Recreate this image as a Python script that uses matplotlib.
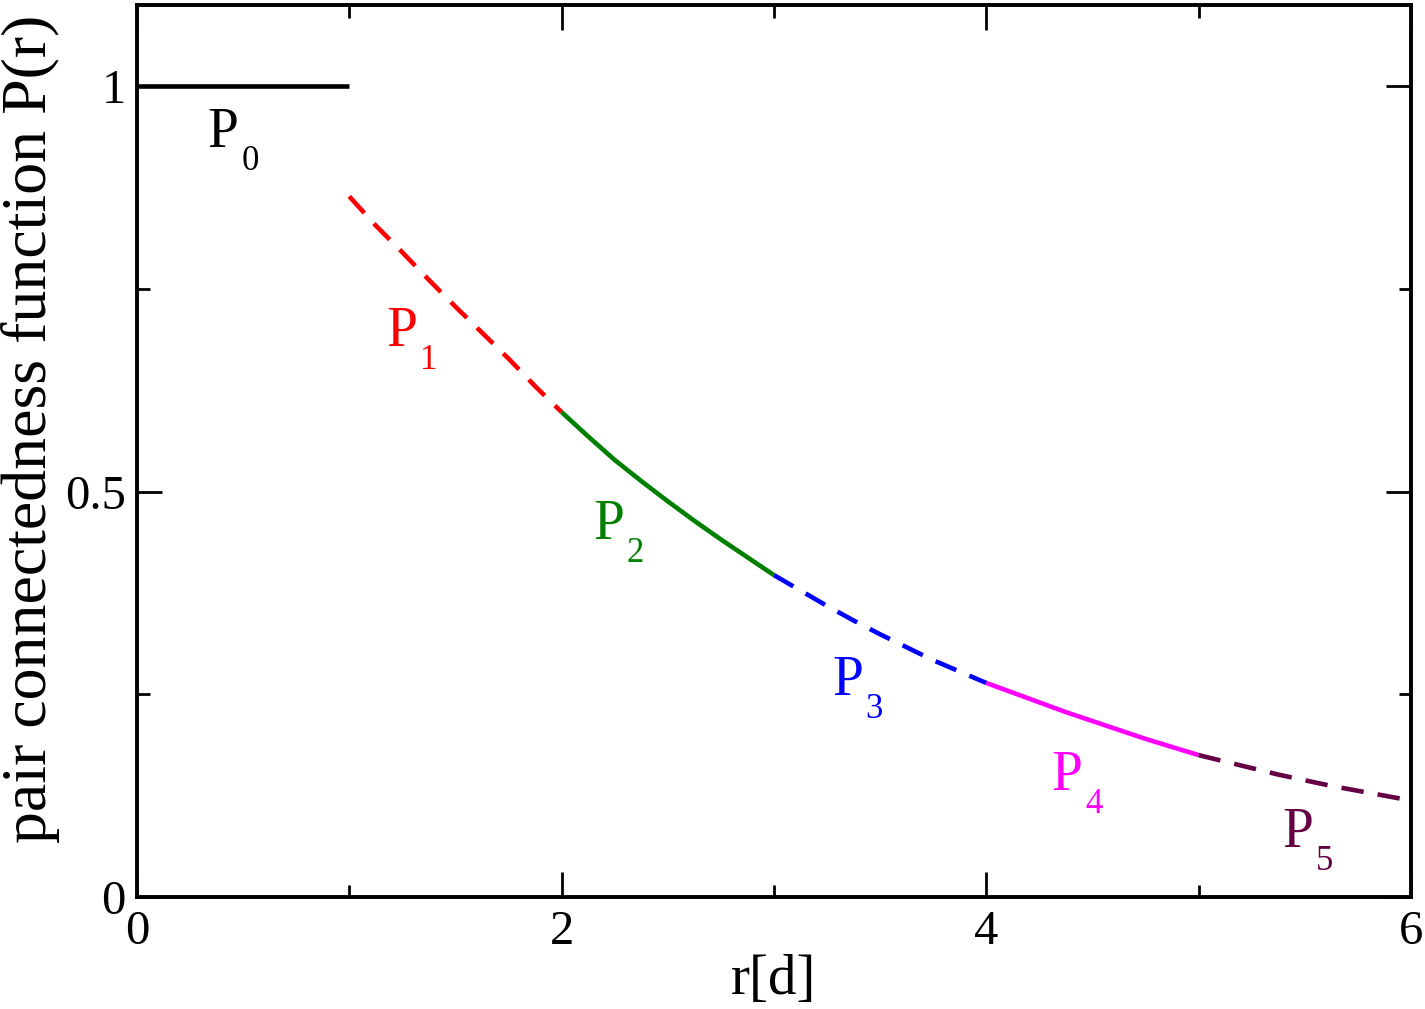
import matplotlib
matplotlib.use("Agg")
import matplotlib.pyplot as plt

plt.rcParams['font.family'] = ['Liberation Serif', 'DejaVu Serif']

# data
r0 = [0.0, 1.0]
p0 = [1.0, 1.0]
r1 = [1.0, 1.125, 1.25, 1.375, 1.5, 1.625, 1.75, 1.875, 2.0]
p1 = [0.864, 0.828, 0.795, 0.761, 0.728, 0.696, 0.664, 0.630, 0.598]
r2 = [2.0, 2.125, 2.25, 2.375, 2.5, 2.625, 2.75, 2.875, 3.0]
p2 = [0.598, 0.568, 0.539, 0.513, 0.488, 0.464, 0.441, 0.419, 0.397]
r3 = [3.0, 3.125, 3.25, 3.375, 3.5, 3.625, 3.75, 3.875, 4.0]
p3 = [0.397, 0.378, 0.359, 0.341, 0.324, 0.308, 0.292, 0.278, 0.264]
r4 = [4.0, 4.125, 4.25, 4.375, 4.5, 4.625, 4.75, 4.875, 5.0]
p4 = [0.264, 0.252, 0.240, 0.228, 0.217, 0.206, 0.195, 0.185, 0.175]
r5 = [5.0, 5.125, 5.25, 5.375, 5.5, 5.625, 5.75, 5.875, 6.0]
p5 = [0.175, 0.167, 0.159, 0.151, 0.144, 0.137, 0.131, 0.125, 0.119]

subscripts = ["0", "1", "2", "3", "4", "5"]
label_x = [0.334, 1.177, 2.148, 3.273, 4.309, 5.397]
label_y = [0.925, 0.679, 0.441, 0.249, 0.132, 0.062]
colors = ["black", "red", "green", "blue", "magenta", "#660044"]
styles = ["solid", "dashed", "solid", "dashed", "solid", "dashed"]

fig = plt.figure(figsize=(14.25, 10.09), dpi=100)
ax = fig.add_axes([0.0961, 0.111, 0.8940, 0.884])

segs = [(r0, p0), (r1, p1), (r2, p2), (r3, p3), (r4, p4), (r5, p5)]
for (r, p), c, s in zip(segs, colors, styles):
    line, = ax.plot(r, p, color=c, lw=3.3, solid_capstyle='butt')
    if s == "dashed":
        line.set_dashes((4.9, 3.1))
        line.set_dash_capstyle('butt')

for sub, x, y, c in zip(subscripts, label_x, label_y, colors):
    ax.text(x, y, "P", color=c, fontsize=40, ha='left', va='baseline')
    ax.annotate(sub, xy=(x, y), xytext=(24, -16.5), textcoords='offset points',
                color=c, fontsize=25, ha='left', va='baseline')

ax.set_xlim(0, 6)
ax.set_ylim(0, 1.1)
ax.set_xticks([0, 2, 4, 6])
ax.set_xticks([1, 3, 5], minor=True)
ax.set_yticks([0, 0.5, 1])
ax.set_yticklabels(["0", "0.5", "1"])
ax.set_yticks([0.25, 0.75], minor=True)
ax.tick_params(which='both', direction='in', top=True, right=True,
               labelsize=35, width=2)
ax.tick_params(which='major', length=18)
ax.tick_params(which='minor', length=9)
ax.tick_params(axis='x', pad=9)
ax.tick_params(axis='y', pad=8)
for sp in ax.spines.values():
    sp.set_linewidth(2.8)

ax.set_xlabel("r[d]", fontsize=41, labelpad=0)
ax.set_ylabel("pair connectedness function P(r)", fontsize=46)
ax.yaxis.set_label_coords(-0.0604, 0.525)

fig.savefig("out.png", dpi=100)
